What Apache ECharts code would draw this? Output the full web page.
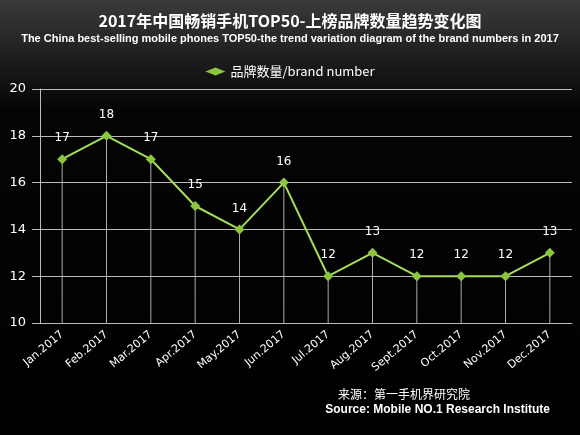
<!DOCTYPE html>
<html>
<head>
<meta charset="utf-8" />
<script src="https://cdn.jsdelivr.net/npm/echarts@6/dist/echarts.min.js"></script>
<style>html,body{margin:0;padding:0;background:#000;}</style>
</head>
<body>
<div id="main" style="width:580px;height:435px;"></div>
<script type="text/javascript">
var months = ['Jan.2017','Feb.2017','Mar.2017','Apr.2017','May.2017','Jun.2017','Jul.2017','Aug.2017','Sept.2017','Oct.2017','Nov.2017','Dec.2017'];
var brandNumbers = [17, 18, 17, 15, 14, 16, 12, 13, 12, 12, 12, 13];
var yTicks = [10, 12, 14, 16, 18, 20];

var myChart = echarts.init(document.getElementById('main'));
myChart.setOption({
    backgroundColor: {
        type: 'linear', x: 0, y: 0, x2: 0, y2: 1,
        colorStops: [{offset: 0, color: '#3a3a3a'}, {offset: 0.25, color: '#050505'}, {offset: 1, color: '#000'}]
    },
    title: {
        text: '2017年中国畅销手机TOP50-上榜品牌数量趋势变化图',
        subtext: 'The China best-selling mobile phones TOP50-the trend variation diagram of the brand numbers in 2017',
        left: 'center', top: 8, itemGap: 4,
        textStyle: {color: '#fff', fontSize: 16, fontWeight: 'bold', fontFamily: 'Noto Sans CJK SC'},
        subtextStyle: {color: '#fff', fontSize: 11, fontWeight: 'bold', fontFamily: 'Liberation Sans'}
    },
    legend: {
        data: [{name: '品牌数量/brand number', icon: 'diamond'}],
        top: 60, left: 'center', itemWidth: 20, itemHeight: 8,
        textStyle: {color: '#fff', fontSize: 13, fontFamily: 'Noto Sans CJK SC'}
    },
    grid: {left: 40, right: 8, top: 89, bottom: 112},
    xAxis: {
        type: 'category', data: months, boundaryGap: true,
        axisLine: {lineStyle: {color: '#bbb'}},
        axisTick: {show: false},
        axisLabel: {color: '#fff', rotate: 40, fontSize: 11, margin: 10, fontFamily: 'DejaVu Sans'}
    },
    yAxis: {
        type: 'value', min: 10, max: 20, interval: 2,
        axisLine: {show: true, lineStyle: {color: '#bbb'}},
        axisTick: {show: true, length: 8, inside: false, lineStyle: {color: '#bbb'}},
        splitLine: {lineStyle: {color: '#bbb', width: 1}},
        axisLabel: {color: '#fff', fontSize: 13, margin: 14, fontFamily: 'DejaVu Sans'}
    },
    series: [
        {
            name: 'drop', type: 'bar', data: brandNumbers, barWidth: 1,
            itemStyle: {color: '#aaa'}, silent: true, z: 1
        },
        {
            name: '品牌数量/brand number', type: 'line', data: brandNumbers,
            symbol: 'diamond', symbolSize: 10, z: 3,
            lineStyle: {color: '#a6dc5a', width: 2},
            itemStyle: {color: '#8cc63f'},
            label: {show: true, position: 'top', distance: 10, color: '#fff', fontSize: 12, fontFamily: 'DejaVu Sans'}
        }
    ],
    graphic: [
        {type: 'text', right: 110, top: 388, style: {text: '来源：第一手机界研究院', fill: '#fff', fontSize: 12, fontFamily: 'Noto Sans CJK SC'}},
        {type: 'text', right: 30, top: 404, style: {text: 'Source: Mobile NO.1 Research Institute', fill: '#fff', fontSize: 12, fontWeight: 'bold', fontFamily: 'Liberation Sans'}}
    ]
});
</script>
</body>
</html>
